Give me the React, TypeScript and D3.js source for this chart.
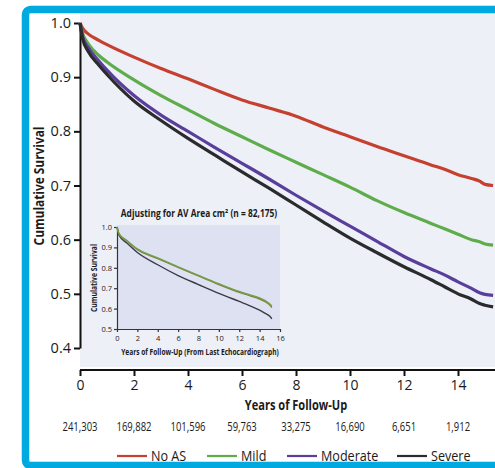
import React, { useEffect, useRef } from "react";
import * as d3 from "d3";

// years of follow-up (main panel)
const years = [0, 0.1, 0.3, 0.7, 1, 2, 3, 4, 5, 6, 7, 8, 9, 10, 11, 12, 13, 13.5, 14, 14.5, 14.8, 15, 15.3];
const noAS = [1.0, 0.99, 0.98, 0.968, 0.96, 0.937, 0.916, 0.897, 0.877, 0.858, 0.843, 0.828, 0.808, 0.79, 0.772, 0.755, 0.738, 0.73, 0.72, 0.713, 0.708, 0.702, 0.7];
const mild = [1.0, 0.98, 0.962, 0.94, 0.928, 0.895, 0.866, 0.84, 0.814, 0.79, 0.766, 0.743, 0.72, 0.697, 0.672, 0.65, 0.63, 0.62, 0.61, 0.6, 0.596, 0.592, 0.59];
const moderate = [1.0, 0.975, 0.955, 0.93, 0.913, 0.866, 0.83, 0.8, 0.77, 0.741, 0.712, 0.682, 0.653, 0.625, 0.597, 0.569, 0.546, 0.535, 0.522, 0.51, 0.502, 0.499, 0.497];
const severe = [1.0, 0.97, 0.948, 0.922, 0.905, 0.856, 0.82, 0.787, 0.756, 0.725, 0.695, 0.664, 0.633, 0.603, 0.576, 0.55, 0.526, 0.513, 0.5, 0.49, 0.482, 0.479, 0.476];

// numbers at risk
const riskYears = [0, 2, 4, 6, 8, 10, 12, 14];
const atRisk = ["241,303", "169,882", "101,596", "59,763", "33,275", "16,690", "6,651", "1,912"];

const yTicks = [0.4, 0.5, 0.6, 0.7, 0.8, 0.9, 1.0];
const xTicks = [0, 2, 4, 6, 8, 10, 12, 14];

// inset: adjusting for AV area
const insetYears = [0, 0.2, 1, 2, 4, 6, 8, 10, 12, 13, 14, 14.5, 15, 15.2];
const insetMild = [1.0, 0.968, 0.933, 0.893, 0.848, 0.805, 0.763, 0.722, 0.684, 0.668, 0.652, 0.64, 0.622, 0.612];
const insetModerate = [1.0, 0.965, 0.93, 0.889, 0.845, 0.802, 0.76, 0.718, 0.68, 0.664, 0.647, 0.635, 0.617, 0.605];
const insetSevere = [1.0, 0.96, 0.92, 0.875, 0.815, 0.762, 0.718, 0.675, 0.635, 0.615, 0.592, 0.578, 0.562, 0.55];
const insetYTicks = [0.5, 0.6, 0.7, 0.8, 0.9, 1.0];
const insetXTicks = [0, 2, 4, 6, 8, 10, 12, 14, 16];

const legendLabels = ["No AS", "Mild", "Moderate", "Severe"];
const colors = ["#c6402f", "#5fac4b", "#5a3e9c", "#2b2b2d"];

const FONT = "'Open Sans', 'Noto Sans', sans-serif";

function App() {
  const ref = useRef<SVGSVGElement>(null);

  useEffect(() => {
    drawChart();
  }, []);

  const drawChart = () => {
    const svg = d3.select(ref.current);
    svg.selectAll("*").remove();

    // squeezed text, the original uses a condensed face
    const txt = (g: any, x: number, y: number, s: string, size: number, opts: any = {}) =>
      g.append("text")
        .attr("transform", `translate(${x},${y})${opts.rotate ? ` rotate(${opts.rotate})` : ""} scale(${opts.sx ?? 1},1)`)
        .attr("text-anchor", opts.anchor ?? "middle")
        .style("font-family", FONT)
        .style("font-size", size + "px")
        .style("font-weight", opts.bold ? "bold" : "normal")
        .attr("fill", opts.fill ?? "#1a1a1a")
        .text(s);

    // plot background
    svg.append("rect").attr("x", 80).attr("y", 13).attr("width", 420).attr("height", 354).attr("fill", "#eef0f8");

    const x = d3.scaleLinear().domain([0, 14]).range([80, 458]);
    const y = d3.scaleLinear().domain([0.4, 1.0]).range([348, 23]);

    // y axis
    const yAxis = svg.append("g")
      .attr("transform", "translate(80,0)")
      .call(d3.axisLeft(y).tickValues(yTicks).tickFormat(d3.format(".1f")).tickSize(6).tickSizeOuter(0).tickPadding(3));
    yAxis.selectAll("path, line").attr("stroke", "#111").attr("stroke-width", 2);
    yAxis.selectAll("text").style("font-family", FONT).style("font-size", "14.5px").attr("fill", "#1a1a1a");

    // x axis
    const xAxis = svg.append("g")
      .attr("transform", "translate(0,370)")
      .call(d3.axisBottom(x).tickValues(xTicks).tickFormat(d3.format("d")).tickSize(6).tickSizeOuter(0).tickPadding(4));
    xAxis.select(".domain").remove();
    xAxis.append("line").attr("x1", 80).attr("x2", 495).attr("stroke", "#111").attr("stroke-width", 2);
    xAxis.selectAll(".tick line").attr("stroke", "#111").attr("stroke-width", 2);
    xAxis.selectAll("text").style("font-family", FONT).style("font-size", "14px").attr("fill", "#1a1a1a");

    // curves
    const series = [noAS, mild, moderate, severe];
    const line = d3.line<number>()
      .x((d, i) => x(years[i]))
      .y(d => y(d))
      .curve(d3.curveMonotoneX);
    series.forEach((s, k) => {
      svg.append("path")
        .attr("d", line(s))
        .attr("fill", "none")
        .attr("stroke", colors[k])
        .attr("stroke-width", 3.2)
        .attr("stroke-linejoin", "round");
    });

    // titles
    txt(svg, 39, 186, "Cumulative Survival", 13.5, { bold: true, rotate: -90, sx: 0.88 }).attr("dy", "0.35em");
    txt(svg, 296, 410, "Years of Follow-Up", 13.5, { bold: true, sx: 0.82 });

    // numbers at risk
    riskYears.forEach((t, i) => {
      txt(svg, x(t), 431, atRisk[i], 12.5, { sx: 0.76 });
    });

    // legend
    const legendX = [117, 207, 287, 397];
    legendLabels.forEach((lab, i) => {
      svg.append("line")
        .attr("x1", legendX[i]).attr("x2", legendX[i] + 30)
        .attr("y1", 456).attr("y2", 456)
        .attr("stroke", colors[i]).attr("stroke-width", 2.2);
      txt(svg, legendX[i] + 34, 461, lab, 14, { anchor: "start", sx: 0.9 });
    });

    // ---- inset ----
    const inset = svg.append("g");
    const ix = d3.scaleLinear().domain([0, 16]).range([117, 280]);
    const iy = d3.scaleLinear().domain([0.5, 1.0]).range([329, 227]);
    inset.append("rect").attr("x", 117).attr("y", 225).attr("width", 163).attr("height", 104).attr("fill", "#dde1f2");

    const iyAxis = inset.append("g")
      .attr("transform", "translate(117,0)")
      .call(d3.axisLeft(iy).tickValues(insetYTicks).tickFormat(d3.format(".1f")).tickSize(3).tickSizeOuter(0).tickPadding(2));
    iyAxis.selectAll("path, line").attr("stroke", "#333").attr("stroke-width", 1.2);
    iyAxis.selectAll("text").style("font-family", FONT).style("font-size", "7.5px").attr("fill", "#222");

    const ixAxis = inset.append("g")
      .attr("transform", "translate(0,329)")
      .call(d3.axisBottom(ix).tickValues(insetXTicks).tickFormat(d3.format("d")).tickSize(3).tickSizeOuter(0).tickPadding(4));
    ixAxis.selectAll("path, line").attr("stroke", "#333").attr("stroke-width", 1.2);
    ixAxis.selectAll("text").style("font-family", FONT).style("font-size", "7.5px").attr("fill", "#222");

    const iline = d3.line<number>()
      .x((d, i) => ix(insetYears[i]))
      .y(d => iy(d))
      .curve(d3.curveMonotoneX);
    [[insetSevere, "#3b3b48"], [insetModerate, "#8a7a3a"], [insetMild, "#6fa04a"]].forEach(([s, c]: any) => {
      inset.append("path")
        .attr("d", iline(s))
        .attr("fill", "none")
        .attr("stroke", c)
        .attr("stroke-width", 1.4);
    });

    txt(inset, 199, 217, "Adjusting for AV Area cm² (n = 82,175)", 10.5, { bold: true, sx: 0.8 });
    txt(inset, 200, 355, "Years of Follow-Up (From Last Echocardiograph)", 8.5, { bold: true, sx: 0.78 });
    txt(inset, 94, 278, "Cumulative Survival", 8, { bold: true, rotate: -90, sx: 0.85 }).attr("dy", "0.35em");

    // blue frame
    svg.append("rect")
      .attr("x", 25.5).attr("y", 9.5).attr("width", 520).attr("height", 456)
      .attr("rx", 5)
      .attr("fill", "none")
      .attr("stroke", "#00a9e0")
      .attr("stroke-width", 7.5);
  };

  return (
    <svg ref={ref} width={495} height={468} style={{ position: "absolute", left: 0, top: 0, background: "#fff" }} />
  );
}

export default App;
